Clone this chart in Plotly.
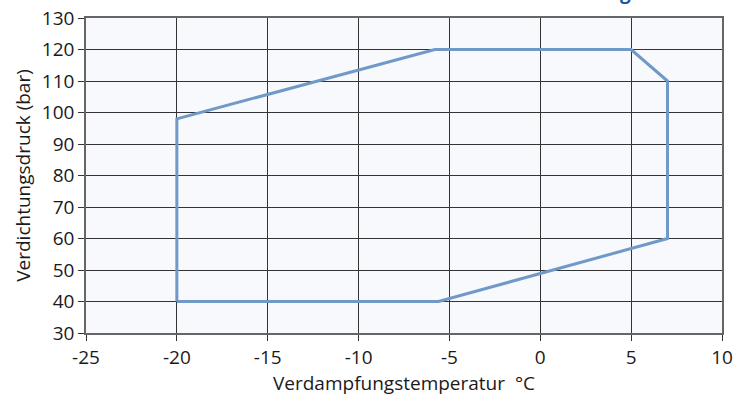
import plotly.graph_objects as go

# Envelope polygon (evaporating temperature °C, condensing pressure bar)
temp = [-20, -5.6, 7, 7, 5, -5.8, -20, -20]
pressure = [40, 40, 60, 110, 120, 120, 98, 40]

x_ticks = [-25, -20, -15, -10, -5, 0, 5, 10]
y_ticks = [30, 40, 50, 60, 70, 80, 90, 100, 110, 120, 130]

font_family = "Open Sans"

fig = go.Figure()
fig.add_trace(go.Scatter(
    x=temp, y=pressure, mode="lines",
    line=dict(color="#7099c8", width=3),
    showlegend=False, hoverinfo="skip",
))

fig.update_layout(
    width=750, height=404,
    margin=dict(l=86, r=28, t=18, b=71, autoexpand=False),
    paper_bgcolor="white",
    plot_bgcolor="#f7f9fd",
    font=dict(family=font_family, size=19, color="#1a1a1a"),
    annotations=[dict(
        text="<b>g</b>", xref="paper", yref="paper",
        x=0.849, y=1.0, yshift=11, xanchor="center", yanchor="bottom",
        showarrow=False, font=dict(size=19, color="#1a5a9e", family=font_family),
    )],
)
fig.update_xaxes(
    range=[-25, 10], tickvals=x_ticks, ticktext=[str(v) for v in x_ticks],
    showgrid=True, gridcolor="#333333", gridwidth=1,
    showline=True, linecolor="#666666", linewidth=1.5, mirror=True,
    ticks="outside", ticklen=6, tickcolor="#333333",
    zeroline=False, automargin=False, ticklabeloverflow="allow",
    title=dict(text="Verdampfungstemperatur  °C", standoff=6,
               font=dict(size=19)),
    tickfont=dict(size=19),
)
fig.update_yaxes(
    range=[30, 130], tickvals=y_ticks,
    showgrid=True, gridcolor="#333333", gridwidth=1,
    showline=True, linecolor="#666666", linewidth=1.5, mirror=True,
    ticks="outside", ticklen=6, tickcolor="#333333",
    zeroline=False, automargin=False, ticklabeloverflow="allow",
    title=dict(text="Verdichtungsdruck (bar)", standoff=6,
               font=dict(size=19)),
    tickfont=dict(size=19),
)

fig.write_html("out.html", config={"displayModeBar": False},
               post_script="document.body.style.margin='0';")
